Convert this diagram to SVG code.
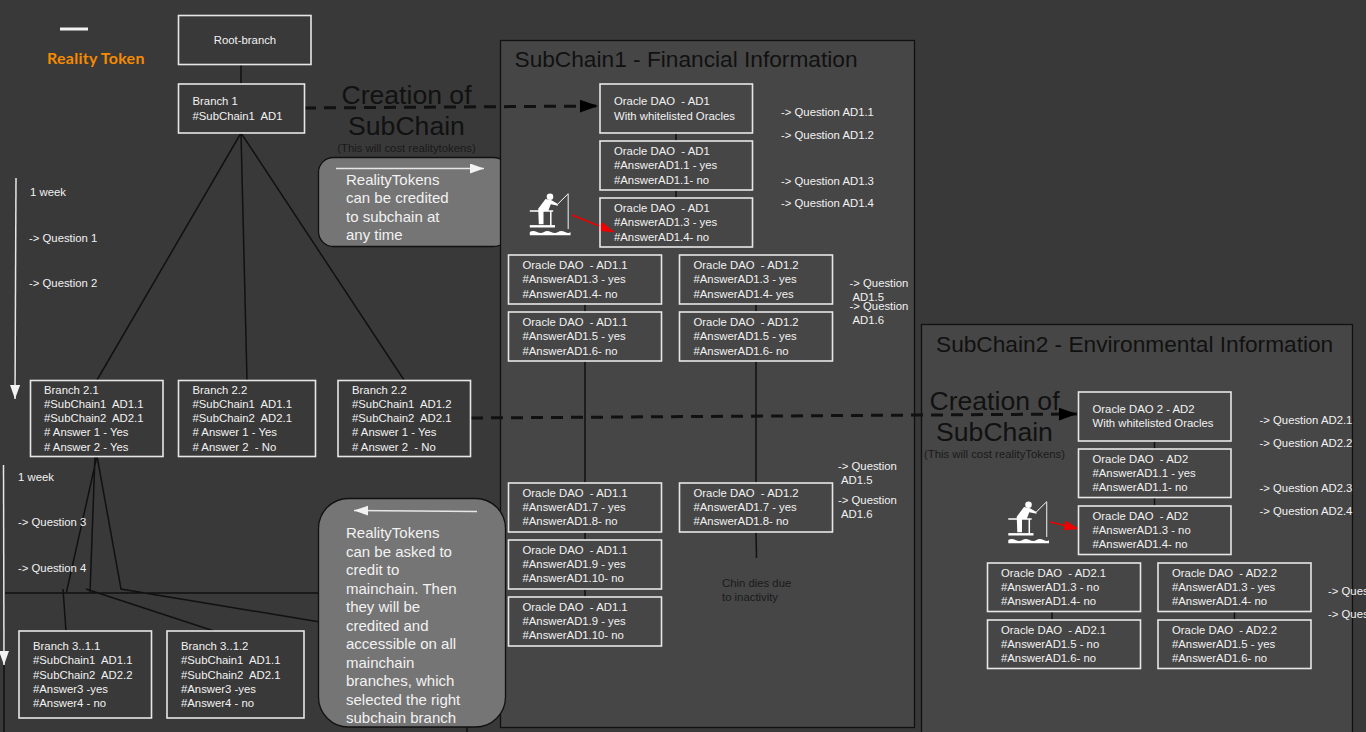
<svg xmlns="http://www.w3.org/2000/svg" width="1366" height="732" viewBox="0 0 1366 732">
<style>
text{font-family:"Liberation Sans",Arial,sans-serif;font-size:11.33px;fill:#f2f2f2;white-space:pre}
.box{fill:none;stroke:#e6e6e6;stroke-width:1.6}
.panel{fill:#464646;stroke:#111;stroke-width:1.3}
.bubble{fill:#757575;stroke:#111;stroke-width:1.3}
.l{fill:none;stroke:#111;stroke-width:1.5}
.d{fill:none;stroke:#111;stroke-width:3;stroke-dasharray:12 8}
.w{fill:none;stroke:#e6e6e6;stroke-width:1.5}
.dark{fill:#1a1a1a}
.big{font-size:26.6px;fill:#111;text-anchor:middle}
.cost{fill:#1a1a1a;text-anchor:middle}
.title{font-size:22.7px;fill:#111}
.bt{font-size:15px}
</style>
<defs>
<marker id="blk" markerUnits="userSpaceOnUse" markerWidth="20" markerHeight="14" refX="18" refY="6.5" orient="auto"><path d="M0 0L18 6.5L0 13z" fill="#000"/></marker>
<marker id="wht" markerUnits="userSpaceOnUse" markerWidth="16" markerHeight="12" refX="14" refY="5" orient="auto"><path d="M0 0L14 5L0 10z" fill="#f2f2f2"/></marker>
<marker id="red" markerUnits="userSpaceOnUse" markerWidth="16" markerHeight="12" refX="15" refY="5" orient="auto"><path d="M0 0L15 5L0 10z" fill="#f00000"/></marker>
<g id="fisher">
<circle cx="550" cy="196.700" r="3.300" fill="#fff"/>
<path d="M545.500 199L551.500 200.300L557.500 203.700L558.200 205.700L550.800 204.300L548.200 211H543.500V224.300H538.800L538.200 208.700z" fill="#fff"/>
<path d="M557.500 204.300L568.200 193.700" stroke="#fff" stroke-width="1" fill="none"/>
<path d="M529.800 211H553.200M550.800 211V226" stroke="#fff" stroke-width="1.500" fill="none"/>
<path d="M529.800 226.300H555" stroke="#fff" stroke-width="2.400" fill="none"/>
<path d="M568.200 193.700V229" stroke="#d8d8d8" stroke-width="1.200" fill="none"/>
<path d="M529.800 232Q533 230 537 232T544 232T551 232T558 232T565 232T570.500 232V235.300H529.800z" fill="#fff"/>
</g>
</defs>
<rect width="1366" height="732" fill="#393939"/>
<g id="bubble-credit"><rect class="bubble" x="318.500" y="157.500" width="190" height="89" rx="15"/></g>
<g id="panel-subchain1"><rect class="panel" x="500.500" y="40.500" width="414" height="687"/><text class="title" x="514.500" y="67">SubChain1 - Financial Information</text></g>
<g id="panel-subchain2"><rect class="panel" x="921.500" y="324.500" width="431" height="420"/><text class="title" x="936" y="352">SubChain2 - Environmental Information</text></g>
<g id="bubble-credit-content"><path class="w" d="M336 168.500L484 168.500" marker-end="url(#wht)"/><text class="bt" x="346" y="185">RealityTokens</text><text class="bt" x="346" y="203">can be credited</text><text class="bt" x="346" y="222">to subchain at</text><text class="bt" x="346" y="240">any time</text></g>
<g id="connectors">
<path class="l" d="M241 65V84M241 133L97 380M241 133L247 380M241 133L404 380"/>
<path class="l" d="M97 456L66.500 592M95 456L90 593M97 456L121 589L320 622M63 589L66 631M86 589L214 631M5 593H320M4 665V732M467 725V732"/>
<path class="d" d="M304 108L598 106" marker-end="url(#blk)"/>
<path class="d" d="M471 418L1077 414" marker-end="url(#blk)"/>
<path class="l" d="M676 133V141M676 190V198M585 304V312M585 361V483M756 304V312M756 361V483M585 532V540M585 589V597M756 532L756.500 558M1154.500 441V449M1154.500 497V506M1052 612V620M1234.500 612V620"/>
<path class="l" d="M572 215L614 232" style="stroke:#f00000" marker-end="url(#red)"/>
<path class="l" d="M1050 522L1079 529" style="stroke:#f00000" marker-end="url(#red)"/>
<path class="w" d="M16 178L15 399" marker-end="url(#wht)"/>
<path class="w" d="M3.500 465L4 665" marker-end="url(#wht)"/>
</g>
<g id="legend"><path d="M60 29H88" stroke="#f2f2f2" stroke-width="3"/><text x="47" y="64" style="font-family:Lato,sans-serif;font-weight:700;font-size:16px;letter-spacing:.25px;fill:#f58a00">Reality Token</text></g>
<g id="root-branch"><rect class="box" x="178.500" y="15.500" width="132.500" height="49"/><text x="245" y="44" text-anchor="middle">Root-branch</text></g>
<g id="branch-1"><rect class="box" x="178.500" y="84" width="126" height="49"/><text x="192.500" y="105">Branch 1</text><text x="192.500" y="120">#SubChain1  AD1</text></g>
<g id="branch-2-1"><rect class="box" x="30.500" y="380.500" width="132.500" height="76"/><text x="44" y="394">Branch 2.1</text><text x="44" y="408">#SubChain1  AD1.1</text><text x="44" y="422">#SubChain2  AD2.1</text><text x="44" y="436"># Answer 1 - Yes</text><text x="44" y="451"># Answer 2 - Yes</text></g>
<g id="branch-2-2a"><rect class="box" x="178.500" y="380.500" width="137" height="76"/><text x="192.500" y="394">Branch 2.2</text><text x="192.500" y="408">#SubChain1  AD1.1</text><text x="192.500" y="422">#SubChain2  AD2.1</text><text x="192.500" y="436"># Answer 1 - Yes</text><text x="192.500" y="451"># Answer 2  - No</text></g>
<g id="branch-2-2b"><rect class="box" x="338" y="380.500" width="132.500" height="76"/><text x="352" y="394">Branch 2.2</text><text x="352" y="408">#SubChain1  AD1.2</text><text x="352" y="422">#SubChain2  AD2.1</text><text x="352" y="436"># Answer 1 - Yes</text><text x="352" y="451"># Answer 2  - No</text></g>
<g id="branch-3-1-1"><rect class="box" x="19" y="631" width="132.500" height="87"/><text x="33" y="650">Branch 3..1.1</text><text x="33" y="664">#SubChain1  AD1.1</text><text x="33" y="679">#SubChain2  AD2.2</text><text x="33" y="693">#Answer3 -yes</text><text x="33" y="707">#Answer4 - no</text></g>
<g id="branch-3-1-2"><rect class="box" x="167" y="631" width="137" height="87"/><text x="181" y="650">Branch 3..1.2</text><text x="181" y="664">#SubChain1  AD1.1</text><text x="181" y="679">#SubChain2  AD2.1</text><text x="181" y="693">#Answer3 -yes</text><text x="181" y="707">#Answer4 - no</text></g>
<g id="left-labels"><text x="30" y="196">1 week</text><text x="29" y="242">-&gt; Question 1</text><text x="29" y="287">-&gt; Question 2</text><text x="18" y="481">1 week</text><text x="18" y="526">-&gt; Question 3</text><text x="18" y="572">-&gt; Question 4</text></g>
<g id="creation-1"><text class="big" x="406.500" y="104">Creation of</text><text class="big" x="406.500" y="135">SubChain</text><text class="cost" x="406.500" y="152">(This will cost realitytokens)</text></g>
<g id="creation-2"><text class="big" x="994.500" y="410">Creation of</text><text class="big" x="994.500" y="441">SubChain</text><text class="cost" x="994.500" y="458">(This will cost realityTokens)</text></g>
<g id="bubble-withdraw"><rect class="bubble" x="318.500" y="498.500" width="187" height="228.500" rx="30"/><path class="w" d="M477 511.500L354 510.500" marker-end="url(#wht)"/><text class="bt" x="346" y="538">RealityTokens</text><text class="bt" x="346" y="557">can be asked to</text><text class="bt" x="346" y="575">credit to</text><text class="bt" x="346" y="594">mainchain. Then</text><text class="bt" x="346" y="612">they will be</text><text class="bt" x="346" y="631">credited and</text><text class="bt" x="346" y="649">accessible on all</text><text class="bt" x="346" y="668">mainchain</text><text class="bt" x="346" y="686">branches, which</text><text class="bt" x="346" y="705">selected the right</text><text class="bt" x="346" y="723">subchain branch</text></g>
<g id="oracle-ad1"><rect class="box" x="600" y="84" width="152.500" height="49"/><text x="614" y="105">Oracle DAO  - AD1</text><text x="614" y="120">With whitelisted Oracles</text></g>
<g id="oracle-ad1-b"><rect class="box" x="600" y="141" width="152.500" height="49"/><text x="614" y="155">Oracle DAO  - AD1</text><text x="614" y="169">#AnswerAD1.1 - yes</text><text x="614" y="184">#AnswerAD1.1- no</text></g>
<g id="oracle-ad1-c"><rect class="box" x="600" y="198" width="152.500" height="49"/><text x="614" y="212">Oracle DAO  - AD1</text><text x="614" y="226">#AnswerAD1.3 - yes</text><text x="614" y="241">#AnswerAD1.4- no</text></g>
<g id="oracle-ad11-a"><rect class="box" x="508.500" y="255" width="153" height="49"/><text x="522.500" y="269">Oracle DAO  - AD1.1</text><text x="522.500" y="283">#AnswerAD1.3 - yes</text><text x="522.500" y="298">#AnswerAD1.4- no</text></g>
<g id="oracle-ad12-a"><rect class="box" x="679.500" y="255" width="153" height="49"/><text x="693.500" y="269">Oracle DAO  - AD1.2</text><text x="693.500" y="283">#AnswerAD1.3 - yes</text><text x="693.500" y="298">#AnswerAD1.4- yes</text></g>
<g id="oracle-ad11-b"><rect class="box" x="508.500" y="312" width="153" height="49"/><text x="522.500" y="326">Oracle DAO  - AD1.1</text><text x="522.500" y="340">#AnswerAD1.5 - yes</text><text x="522.500" y="355">#AnswerAD1.6- no</text></g>
<g id="oracle-ad12-b"><rect class="box" x="679.500" y="312" width="153" height="49"/><text x="693.500" y="326">Oracle DAO  - AD1.2</text><text x="693.500" y="340">#AnswerAD1.5 - yes</text><text x="693.500" y="355">#AnswerAD1.6- no</text></g>
<g id="oracle-ad11-c"><rect class="box" x="508.500" y="483" width="153" height="49"/><text x="522.500" y="497">Oracle DAO  - AD1.1</text><text x="522.500" y="511">#AnswerAD1.7 - yes</text><text x="522.500" y="525">#AnswerAD1.8- no</text></g>
<g id="oracle-ad12-c"><rect class="box" x="679.500" y="483" width="153" height="49"/><text x="693.500" y="497">Oracle DAO  - AD1.2</text><text x="693.500" y="511">#AnswerAD1.7 - yes</text><text x="693.500" y="525">#AnswerAD1.8- no</text></g>
<g id="oracle-ad11-d"><rect class="box" x="508.500" y="540" width="153" height="49"/><text x="522.500" y="554">Oracle DAO  - AD1.1</text><text x="522.500" y="568">#AnswerAD1.9 - yes</text><text x="522.500" y="582">#AnswerAD1.10- no</text></g>
<g id="oracle-ad11-e"><rect class="box" x="508.500" y="597" width="153" height="49"/><text x="522.500" y="611">Oracle DAO  - AD1.1</text><text x="522.500" y="625">#AnswerAD1.9 - yes</text><text x="522.500" y="639">#AnswerAD1.10- no</text></g>
<g id="oracle-ad2"><rect class="box" x="1078.500" y="392" width="152.500" height="49"/><text x="1092.500" y="413">Oracle DAO 2 - AD2</text><text x="1092.500" y="427">With whitelisted Oracles</text></g>
<g id="oracle-ad2-b"><rect class="box" x="1078.500" y="449" width="152.500" height="48.500"/><text x="1092.500" y="463">Oracle DAO  - AD2</text><text x="1092.500" y="477">#AnswerAD1.1 - yes</text><text x="1092.500" y="491">#AnswerAD1.1- no</text></g>
<g id="oracle-ad2-c"><rect class="box" x="1078.500" y="506" width="152.500" height="48.500"/><text x="1092.500" y="520">Oracle DAO  - AD2</text><text x="1092.500" y="534">#AnswerAD1.3 - no</text><text x="1092.500" y="548">#AnswerAD1.4- no</text></g>
<g id="oracle-ad21-a"><rect class="box" x="987.500" y="563" width="153" height="48.500"/><text x="1001" y="577">Oracle DAO  - AD2.1</text><text x="1001" y="591">#AnswerAD1.3 - no</text><text x="1001" y="605">#AnswerAD1.4- no</text></g>
<g id="oracle-ad22-a"><rect class="box" x="1158" y="563" width="153" height="48.500"/><text x="1172" y="577">Oracle DAO  - AD2.2</text><text x="1172" y="591">#AnswerAD1.3 - yes</text><text x="1172" y="605">#AnswerAD1.4- no</text></g>
<g id="oracle-ad21-b"><rect class="box" x="987.500" y="620" width="153" height="48.500"/><text x="1001" y="634">Oracle DAO  - AD2.1</text><text x="1001" y="648">#AnswerAD1.5 - no</text><text x="1001" y="662">#AnswerAD1.6- no</text></g>
<g id="oracle-ad22-b"><rect class="box" x="1158" y="620" width="153" height="48.500"/><text x="1172" y="634">Oracle DAO  - AD2.2</text><text x="1172" y="648">#AnswerAD1.5 - yes</text><text x="1172" y="662">#AnswerAD1.6- no</text></g>
<g id="fisher-1"><use href="#fisher"/></g>
<g id="fisher-2"><use href="#fisher" x="478.500" y="308"/></g>
<g id="questions-1"><text x="781" y="116">-&gt; Question AD1.1</text><text x="781" y="139">-&gt; Question AD1.2</text><text x="781" y="185">-&gt; Question AD1.3</text><text x="781" y="207">-&gt; Question AD1.4</text><text x="849.500" y="287">-&gt; Question</text><text x="852.500" y="301">AD1.5</text><text x="849.500" y="310">-&gt; Question</text><text x="852.500" y="324">AD1.6</text><text x="838" y="470">-&gt; Question</text><text x="841" y="484">AD1.5</text><text x="838" y="504">-&gt; Question</text><text x="841" y="518">AD1.6</text></g>
<g id="questions-2"><text x="1259.500" y="424">-&gt; Question AD2.1</text><text x="1259.500" y="447">-&gt; Question AD2.2</text><text x="1259.500" y="492">-&gt; Question AD2.3</text><text x="1259.500" y="515">-&gt; Question AD2.4</text><text x="1328" y="595">-&gt; Ques</text><text x="1328" y="618">-&gt; Ques</text></g>
<g id="chain-dies"><text class="dark" x="722" y="587">Chin dies due</text><text class="dark" x="722" y="601">to inactivity</text></g>
</svg>
